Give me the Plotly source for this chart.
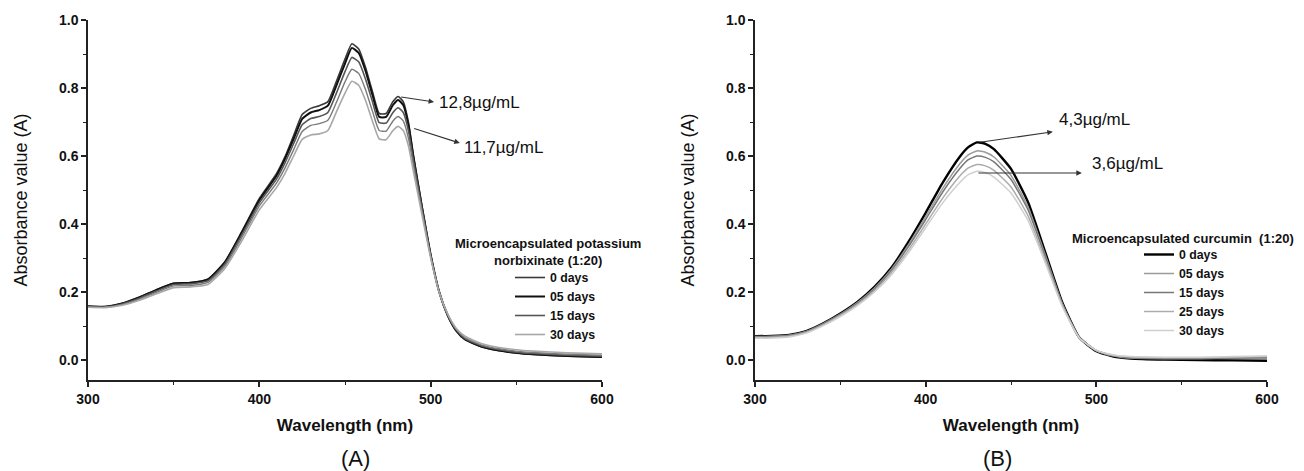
import plotly.graph_objects as go

# ---------------- Data: Panel A (potassium norbixinate) ----------------
wl_a = [300, 310, 320, 330, 340, 350, 360, 370, 380, 390, 400, 410, 415, 420, 425, 430, 435, 440, 445, 450,
        454, 458, 462, 466, 470, 474, 478, 481, 484, 487, 490, 495, 500, 505, 510, 515, 520, 530, 540, 550,
        560, 580, 600]
a_0d = [.158, .157, .167, .185, .207, .226, .228, .238, .290, .380, .475, .548, .598, .660, .722, .740, .748, .760, .820, .885,
        .930, .915, .860, .790, .725, .725, .760, .775, .760, .700, .600, .450, .310, .200, .130, .085, .060, .038, .027, .020,
        .016, .011, .008]
a_05d = [.158, .157, .166, .184, .206, .225, .227, .237, .288, .377, .470, .542, .592, .650, .709, .728, .735, .748, .808, .872,
         .918, .903, .850, .780, .715, .715, .750, .765, .750, .692, .595, .448, .310, .200, .131, .086, .061, .039, .028, .021,
         .017, .012, .009]
a_15d = [.157, .156, .165, .182, .203, .222, .224, .233, .283, .370, .462, .532, .580, .636, .692, .710, .716, .728, .785, .848,
         .890, .877, .826, .760, .698, .697, .728, .742, .728, .675, .585, .443, .308, .200, .132, .088, .063, .041, .030, .023,
         .019, .014, .011]
a_25d = [.156, .155, .163, .179, .199, .218, .219, .228, .277, .362, .453, .520, .565, .618, .672, .690, .695, .705, .758, .818,
         .855, .843, .795, .732, .675, .673, .703, .716, .703, .653, .570, .435, .305, .200, .133, .090, .066, .044, .033, .026,
         .022, .017, .014]
a_30d = [.155, .154, .161, .176, .195, .213, .215, .222, .270, .352, .442, .507, .549, .600, .649, .662, .665, .675, .730, .785,
         .820, .808, .763, .703, .650, .648, .675, .687, .675, .630, .553, .425, .300, .198, .135, .093, .070, .048, .037, .030,
         .026, .021, .018]

# ---------------- Data: Panel B (curcumin) ----------------
wl_b = [300, 310, 320, 330, 340, 350, 360, 370, 380, 390, 400, 410, 420, 425, 430, 435, 440, 450, 460, 470,
        480, 490, 500, 510, 520, 540, 560, 580, 600]
b_0d = [.070, .071, .074, .085, .108, .137, .171, .215, .272, .348, .433, .522, .598, .626, .640, .636, .620, .562, .464, .318,
        .170, .066, .026, .010, .004, .001, .000, -.001, -.002]
b_05d = [.069, .070, .073, .084, .107, .135, .169, .212, .268, .340, .422, .505, .577, .603, .615, .611, .597, .543, .450, .310,
         .167, .066, .027, .012, .006, .004, .004, .005, .006]
b_15d = [.068, .069, .072, .083, .106, .134, .167, .209, .264, .334, .413, .494, .563, .589, .600, .596, .583, .531, .441, .305,
         .165, .066, .028, .013, .007, .005, .005, .006, .007]
b_25d = [.066, .067, .070, .081, .103, .131, .163, .204, .257, .324, .400, .476, .541, .565, .575, .571, .558, .509, .424, .295,
         .161, .066, .028, .014, .009, .007, .007, .008, .010]
b_30d = [.064, .065, .068, .079, .101, .128, .160, .200, .251, .316, .389, .462, .522, .545, .555, .551, .538, .491, .410, .287,
         .158, .065, .029, .015, .010, .008, .008, .010, .012]

series_a = [("0 days", a_0d, "#3a3a3a", 1.6, True),
            ("05 days", a_05d, "#111111", 2.0, True),
            ("15 days", a_15d, "#555555", 1.6, True),
            ("25 days", a_25d, "#7a7a7a", 1.4, False),
            ("30 days", a_30d, "#a8a8a8", 1.6, True)]
series_b = [("0 days", b_0d, "#000000", 2.4, True),
            ("05 days", b_05d, "#9a9a9a", 1.5, True),
            ("15 days", b_15d, "#777777", 1.5, True),
            ("25 days", b_25d, "#acacac", 1.5, True),
            ("30 days", b_30d, "#cfcfcf", 1.5, True)]

FONT = "Liberation Sans, Arial, sans-serif"
W, H = 1304, 471

fig = go.Figure()
for name, ys, col, w, sl in series_a:
    fig.add_trace(go.Scatter(x=wl_a, y=ys, mode="lines", name="<b>" + name + "</b>", showlegend=sl,
                             line=dict(color=col, width=w, shape="spline", smoothing=0.5),
                             xaxis="x", yaxis="y", legend="legend"))
for name, ys, col, w, sl in series_b:
    fig.add_trace(go.Scatter(x=wl_b, y=ys, mode="lines", name="<b>" + name + "</b>", showlegend=sl,
                             line=dict(color=col, width=w, shape="spline", smoothing=0.5),
                             xaxis="x2", yaxis="y2", legend="legend2"))

def px_x(p):
    return p / W

def px_y(p):
    return 1 - p / H

xdomA = [px_x(88), px_x(602)]
xdomB = [px_x(755), px_x(1267)]
ydom = [px_y(380), px_y(20)]

tickfont = dict(family=FONT, size=14, color="#111111")
xcommon = dict(range=[300, 600], tickvals=[300, 400, 500, 600],
               ticktext=["<b>300</b>", "<b>400</b>", "<b>500</b>", "<b>600</b>"],
               ticks="outside", ticklen=5, tickwidth=1.5, automargin=False,
               showline=True, linecolor="#222222", linewidth=1.5, showgrid=False, zeroline=False,
               tickfont=tickfont, tickcolor="#222222",
               minor=dict(tickvals=[350, 450, 550], ticks="outside", ticklen=3, tickwidth=1.2, tickcolor="#222222"),
               title=dict(text="<b>Wavelength (nm)</b>", font=dict(family=FONT, size=17, color="#111111"), standoff=14))
ycommon = dict(range=[-0.0588, 1.0], tickvals=[0, 0.2, 0.4, 0.6, 0.8, 1.0],
               ticktext=["<b>0.0</b>", "<b>0.2</b>", "<b>0.4</b>", "<b>0.6</b>", "<b>0.8</b>", "<b>1.0</b>"],
               ticks="outside", ticklen=5, tickwidth=1.5, automargin=False,
               showline=True, linecolor="#222222", linewidth=1.5, showgrid=False, zeroline=False,
               tickfont=tickfont, tickcolor="#222222",
               minor=dict(tickvals=[0.1, 0.3, 0.5, 0.7, 0.9], ticks="outside", ticklen=3, tickwidth=1.2,
                          tickcolor="#222222"),
               title=dict(text="Absorbance value (A)", font=dict(family=FONT, size=18, color="#111111"), standoff=27))

LEG_FONT = dict(family=FONT, size=12.3, color="#111111")
fig.update_layout(
    width=W, height=H, autosize=False,
    margin=dict(l=0, r=0, t=0, b=0, autoexpand=False),
    paper_bgcolor="white", plot_bgcolor="white",
    font=dict(family=FONT, color="#111111"),
    xaxis=dict(domain=xdomA, anchor="y", **xcommon),
    yaxis=dict(domain=ydom, anchor="x", **ycommon),
    xaxis2=dict(domain=xdomB, anchor="y2", **xcommon),
    yaxis2=dict(domain=ydom, anchor="x2", **ycommon),
    legend=dict(x=px_x(510), y=px_y(263), xanchor="left", yanchor="top", bgcolor="rgba(0,0,0,0)",
                font=LEG_FONT, tracegroupgap=0, itemclick=False),
    legend2=dict(x=px_x(1139), y=px_y(240), xanchor="left", yanchor="top", bgcolor="rgba(0,0,0,0)",
                 font=LEG_FONT, tracegroupgap=0, itemclick=False),
)

ann = []
# Legend titles
ann.append(dict(xref="paper", yref="paper", x=px_x(548), y=px_y(252),
                text="<b>Microencapsulated potassium<br>norbixinate (1:20)</b>",
                showarrow=False, xanchor="center", yanchor="middle", align="center",
                font=dict(family=FONT, size=13, color="#111111")))
ann.append(dict(xref="paper", yref="paper", x=px_x(1183), y=px_y(238), text="<b>Microencapsulated curcumin  (1:20)</b>",
                showarrow=False, xanchor="center", yanchor="middle",
                font=dict(family=FONT, size=13, color="#111111")))
# Panel labels
ann.append(dict(xref="paper", yref="paper", x=px_x(355), y=px_y(458), text="(A)", showarrow=False,
                xanchor="center", yanchor="middle", font=dict(family=FONT, size=22, color="#111111")))
ann.append(dict(xref="paper", yref="paper", x=px_x(997), y=px_y(458), text="(B)", showarrow=False,
                xanchor="center", yanchor="middle", font=dict(family=FONT, size=22, color="#111111")))

def arrow(xr, yr, x_head, y_head, x_tail, y_tail):
    return dict(xref=xr, yref=yr, x=x_head, y=y_head, axref=xr, ayref=yr, ax=x_tail, ay=y_tail,
                text="", showarrow=True, arrowhead=2, arrowsize=1, arrowwidth=1.1, arrowcolor="#333333")

def label(xr, yr, x, y, t):
    return dict(xref=xr, yref=yr, x=x, y=y, text=t, showarrow=False, xanchor="left", yanchor="middle",
                font=dict(family=FONT, size=17, color="#111111"))

ann.append(arrow("x", "y", 502.0, 0.759, 481.9, 0.774))
ann.append(label("x", "y", 503.5, 0.756, "12,8µg/mL"))
ann.append(arrow("x", "y", 517.0, 0.638, 489.5, 0.682))
ann.append(label("x", "y", 518.0, 0.626, "11,7µg/mL"))
ann.append(arrow("x2", "y2", 474.5, 0.671, 431.0, 0.640))
ann.append(label("x2", "y2", 477.0, 0.706, "4,3µg/mL"))
ann.append(arrow("x2", "y2", 491.5, 0.550, 430.0, 0.550))
ann.append(label("x2", "y2", 496.5, 0.579, "3,6µg/mL"))

fig.update_layout(annotations=ann)
fig.write_html("out.html")
